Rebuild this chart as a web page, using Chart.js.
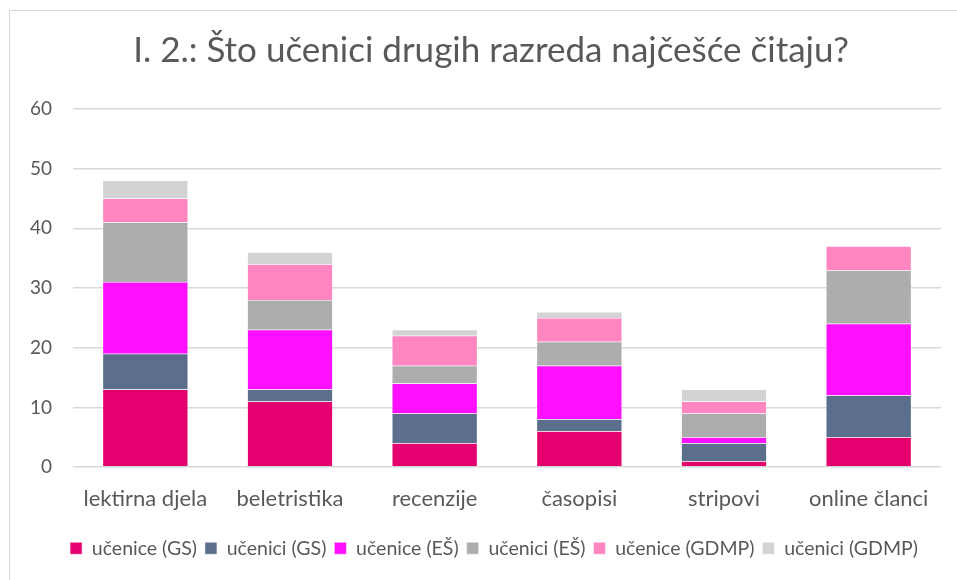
<!DOCTYPE html>
<html>
<head>
<meta charset="utf-8">
<script src="https://cdn.jsdelivr.net/npm/chart.js@4"></script>
<style>
  html, body { margin: 0; padding: 0; background: #fff; }
  #frame { position: absolute; left: 9px; top: 10px; width: 960px; height: 580px;
           border-left: 1px solid #d9d9d9; border-top: 1px solid #d9d9d9; }
  #chart { position: absolute; left: 0; top: 0; }
</style>
</head>
<body>
<div id="frame"></div>
<canvas id="chart" width="957" height="580"></canvas>
<script>
// categories and series values
const categories = ['lektirna djela', 'beletristika', 'recenzije', 'časopisi', 'stripovi', 'online članci'];
const uceniceGS   = [13, 11, 4, 6, 1, 5];
const uceniciGS   = [6, 2, 5, 2, 3, 7];
const uceniceES   = [12, 10, 5, 9, 1, 12];
const uceniciES   = [10, 5, 3, 4, 4, 9];
const uceniceGDMP = [4, 6, 5, 4, 2, 4];
const uceniciGDMP = [3, 2, 1, 1, 2, 0];
const yTicks = [0, 10, 20, 30, 40, 50, 60];

const series = [
  { label: 'učenice (GS)', data: uceniceGS, color: '#E5006F' },
  { label: 'učenici (GS)', data: uceniciGS, color: '#5B6E8C' },
  { label: 'učenice (EŠ)', data: uceniceES, color: '#FF10FF' },
  { label: 'učenici (EŠ)', data: uceniciES, color: '#ADADAD' },
  { label: 'učenice (GDMP)', data: uceniceGDMP, color: '#FF85C0' },
  { label: 'učenici (GDMP)', data: uceniciGDMP, color: '#D4D2D4' }
];

const fontFamily = 'Lato, "Open Sans", sans-serif';
const textColor = '#595959';

// title and legend sit a bit right of the canvas centre in the original
const shiftBlocks = {
  id: 'shiftBlocks',
  afterLayout: function(chart) {
    if (chart.titleBlock) {
      chart.titleBlock.left += 7;
      chart.titleBlock.right += 7;
    }
    if (chart.legend) {
      chart.legend.left += 10;
      chart.legend.right += 10;
    }
  }
};

new Chart(document.getElementById('chart'), {
  type: 'bar',
  data: {
    labels: categories,
    datasets: series.map(function(s) {
      return {
        label: s.label,
        data: s.data,
        backgroundColor: s.color,
        borderColor: '#ffffff',
        borderWidth: 0.5,
        categoryPercentage: 1,
        barPercentage: 0.59
      };
    })
  },
  plugins: [shiftBlocks],
  options: {
    responsive: false,
    animation: false,
    layout: { padding: { left: 27, right: 16, top: 11, bottom: 12 } },
    plugins: {
      title: {
        display: true,
        text: 'I. 2.: Što učenici drugih razreda najčešće čitaju?',
        color: textColor,
        font: { family: fontFamily, size: 35, weight: 'normal' },
        padding: { top: 19, bottom: 37 }
      },
      legend: {
        position: 'bottom',
        labels: {
          color: textColor,
          font: { family: fontFamily, size: 19.5 },
          boxWidth: 12,
          boxHeight: 12,
          padding: 8
        }
      },
      tooltip: { enabled: false }
    },
    scales: {
      x: {
        stacked: true,
        grid: { display: false },
        border: { display: false },
        ticks: { color: textColor, font: { family: fontFamily, size: 22 }, padding: 11 },
        afterFit: function(scale) {
          scale.paddingLeft = 0;
          scale.paddingRight = 0;
          // extra room under the category labels
          scale.height += 7;
        }
      },
      y: {
        stacked: true,
        min: 0,
        max: 60,
        afterBuildTicks: function(axis) {
          axis.ticks = yTicks.map(function(v) { return { value: v }; });
        },
        afterFit: function(axis) {
          axis.width = 46;
        },
        grid: { color: '#d9d9d9', lineWidth: 1.5, drawTicks: false },
        border: { display: false },
        ticks: { color: textColor, font: { family: fontFamily, size: 19 }, padding: 21 }
      }
    }
  }
});
</script>
</body>
</html>
